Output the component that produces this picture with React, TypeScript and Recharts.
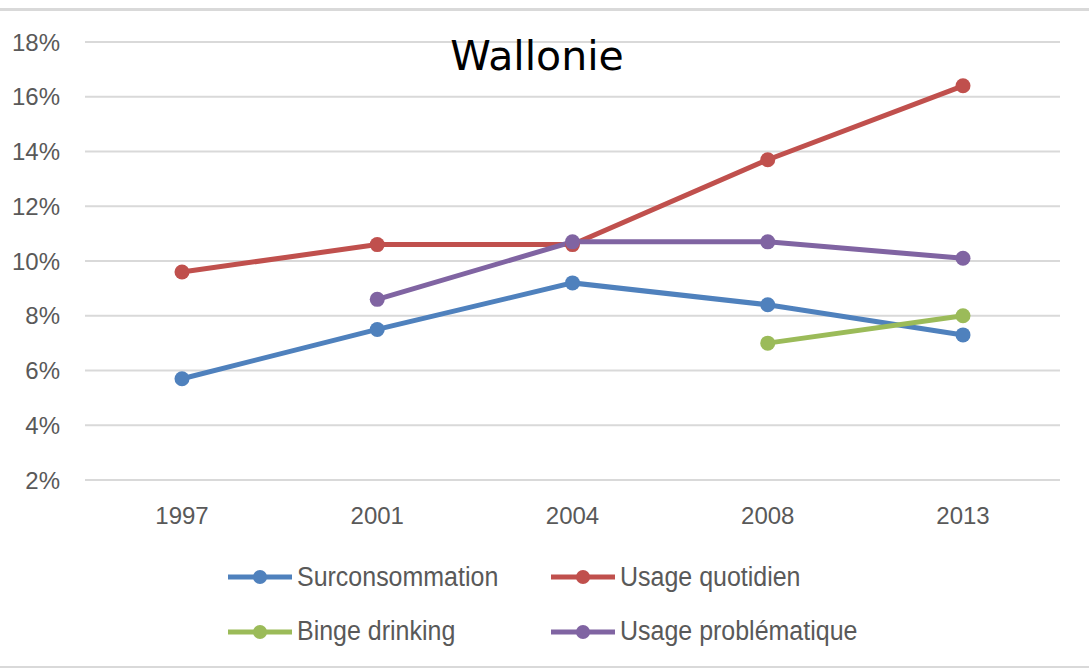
import React from 'react';
import {
  LineChart,
  Line,
  XAxis,
  YAxis,
  CartesianGrid,
  Legend,
} from 'recharts';

const years = ['1997', '2001', '2004', '2008', '2013'];
const surconsommation = [5.7, 7.5, 9.2, 8.4, 7.3];
const usageQuotidien = [9.6, 10.6, 10.6, 13.7, 16.4];
const bingeDrinking = [null, null, null, 7.0, 8.0];
const usageProblematique = [null, 8.6, 10.7, 10.7, 10.1];
const yTicks = [2, 4, 6, 8, 10, 12, 14, 16, 18];

// series in legend order (2 x 2, row by row)
const SERIES = [
  { key: 'surconsommation', name: 'Surconsommation', color: '#4f81bd' },
  { key: 'quotidien', name: 'Usage quotidien', color: '#c0504d' },
  { key: 'binge', name: 'Binge drinking', color: '#9bbb59' },
  { key: 'problematique', name: 'Usage problématique', color: '#8064a2' },
];

const data = years.map((year, i) => ({
  year,
  surconsommation: surconsommation[i],
  quotidien: usageQuotidien[i],
  binge: bingeDrinking[i],
  problematique: usageProblematique[i],
}));

const W = 1089;
const H = 668;

const renderLegend = () => (
  <div
    style={{
      display: 'grid',
      gridTemplateColumns: '323px 323px',
      paddingLeft: 228,
      paddingTop: 1,
      height: 110,
      boxSizing: 'border-box',
    }}
  >
    {SERIES.map((s) => (
      <div
        key={s.key}
        style={{ height: 52, display: 'flex', alignItems: 'center' }}
      >
        <svg width={64} height={16} style={{ flex: 'none' }}>
          <line x1={0} y1={8} x2={64} y2={8} stroke={s.color} strokeWidth={5} />
          <circle cx={32} cy={8} r={7} fill={s.color} />
        </svg>
        <span
          style={{
            marginLeft: 5,
            display: 'inline-block',
            whiteSpace: 'nowrap',
            fontFamily: '"Liberation Sans", sans-serif',
            fontSize: 27,
            color: '#595959',
            transform: 'scaleX(0.925)',
            transformOrigin: 'left center',
          }}
        >
          {s.name}
        </span>
      </div>
    ))}
  </div>
);

const tickStyle = {
  fontFamily: '"Liberation Sans", sans-serif',
  fontSize: 24,
  fill: '#595959',
};

export default function App() {
  return (
    <div
      style={{
        position: 'absolute',
        left: 0,
        top: 0,
        width: W,
        height: H,
        background: '#fff',
        overflow: 'hidden',
      }}
    >
      {/* frame lines */}
      <div
        style={{
          position: 'absolute',
          left: 0,
          top: 8,
          width: W,
          height: 3,
          background: '#d9d9d9',
        }}
      />
      <div
        style={{
          position: 'absolute',
          left: 0,
          top: 666,
          width: W,
          height: 2,
          background: '#d9d9d9',
        }}
      />

      <LineChart
        width={W}
        height={H}
        data={data}
        margin={{ top: 42, right: 29, bottom: 8, left: 0 }}
      >
        <CartesianGrid vertical={false} stroke="#d9d9d9" strokeWidth={2} />
        <XAxis
          dataKey="year"
          height={70}
          padding={{ left: 97, right: 97 }}
          axisLine={false}
          tickLine={false}
          tickSize={0}
          tickMargin={27}
          tick={tickStyle}
        />
        <YAxis
          width={85}
          domain={[2, 18]}
          ticks={yTicks}
          axisLine={false}
          tickLine={false}
          tickSize={0}
          tickMargin={25}
          tick={tickStyle}
          tickFormatter={(v) => `${v}%`}
        />
        <Legend
          verticalAlign="bottom"
          content={renderLegend}
          wrapperStyle={{ left: 0, width: W }}
        />
        {SERIES.map((s) => (
          <Line
            key={s.key}
            dataKey={s.key}
            name={s.name}
            stroke={s.color}
            strokeWidth={5}
            dot={{ r: 7.5, fill: s.color, stroke: 'none' }}
            activeDot={false}
            isAnimationActive={false}
          />
        ))}
      </LineChart>

      {/* title */}
      <svg
        width={W}
        height={100}
        style={{ position: 'absolute', left: 0, top: 0, pointerEvents: 'none' }}
      >
        <text
          x={537}
          y={70}
          textAnchor="middle"
          fontFamily='"DejaVu Sans", sans-serif'
          fontSize={41}
          fill="#000"
        >
          Wallonie
        </text>
      </svg>
    </div>
  );
}
